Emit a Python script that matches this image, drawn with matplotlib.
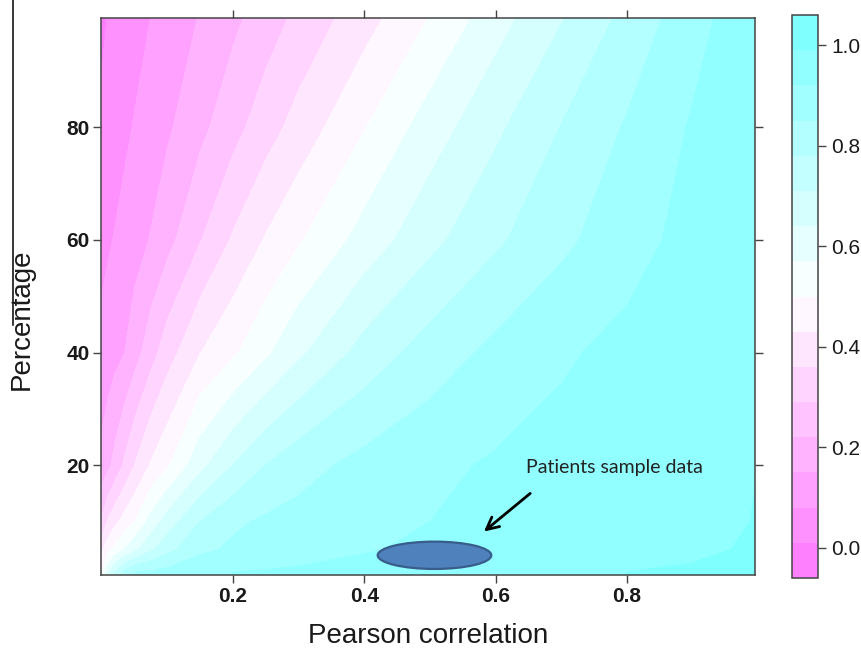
import numpy as np
import matplotlib
matplotlib.use("Agg")
import matplotlib.pyplot as plt
import matplotlib as mpl
from matplotlib.colors import ListedColormap, BoundaryNorm
from matplotlib.patches import Ellipse
from matplotlib.lines import Line2D

# Values: rows = percentage, columns = Pearson correlation
CORRELATION = [0.0, 0.01, 0.02, 0.035, 0.05, 0.075, 0.1, 0.15, 0.2, 0.25,
               0.3, 0.4, 0.5, 0.6, 0.7, 0.8, 0.9, 1.0]
PERCENTAGE = [1, 5, 10, 20, 40, 60, 80, 99]

Z_P1 = [0.50, 0.62, 0.71, 0.797, 0.85, 0.862, 0.873, 0.897, 0.92, 0.926,
        0.932, 0.943, 0.955, 0.967, 0.978, 0.99, 0.995, 1.0]
Z_P5 = [0.42, 0.473, 0.518, 0.57, 0.622, 0.696, 0.757, 0.836, 0.861, 0.874,
        0.888, 0.915, 0.931, 0.944, 0.957, 0.970, 0.983, 0.995]
Z_P10 = [0.30, 0.368, 0.409, 0.456, 0.495, 0.595, 0.671, 0.78, 0.838, 0.86,
         0.872, 0.896, 0.92, 0.935, 0.949, 0.963, 0.976, 0.992]
Z_P20 = [0.17, 0.203, 0.241, 0.302, 0.36, 0.436, 0.489, 0.617, 0.71, 0.78,
         0.824, 0.872, 0.904, 0.928, 0.943, 0.959, 0.974, 0.99]
Z_P40 = [0.10, 0.114, 0.128, 0.149, 0.189, 0.261, 0.328, 0.428, 0.488, 0.556,
         0.626, 0.736, 0.812, 0.868, 0.911, 0.939, 0.962, 0.985]
Z_P60 = [0.06, 0.072, 0.084, 0.103, 0.121, 0.154, 0.197, 0.286, 0.368, 0.436,
         0.492, 0.597, 0.69, 0.768, 0.834, 0.893, 0.943, 0.985]
Z_P80 = [0.02, 0.033, 0.046, 0.066, 0.084, 0.112, 0.139, 0.201, 0.265, 0.329,
         0.387, 0.496, 0.603, 0.696, 0.782, 0.857, 0.927, 0.98]
Z_P99 = [0.0, 0.012, 0.023, 0.039, 0.055, 0.081, 0.106, 0.155, 0.205, 0.257,
         0.308, 0.404, 0.505, 0.612, 0.707, 0.802, 0.895, 0.975]

COLORBAR_TICKS = [0.0, 0.2, 0.4, 0.6, 0.8, 1.0]
X_TICKS = [0.2, 0.4, 0.6, 0.8]
Y_TICKS = [20, 40, 60, 80]

# patients sample region (correlation, percentage) and its label
SAMPLE_CENTER = (0.507, 4.0)
SAMPLE_SIZE = (0.173, 4.85)
SAMPLE_LABEL = "Patients sample data"

plt.rcParams["font.family"] = ["Liberation Sans", "DejaVu Sans"]

# lattice-style levels: 16 bins, magenta -> white -> cyan
levels = np.linspace(-0.06, 1.06, 17)
cols = []
for i in range(16):
    pos = i / 15
    if pos < 0.5:
        s = 0.5 * (1 - pos / 0.5)
        cols.append((1.0, 1 - s, 1.0))
    else:
        s = 0.5 * (pos - 0.5) / 0.5
        cols.append((1 - s, 1.0, 1.0))
cmap = ListedColormap(cols)
norm = BoundaryNorm(levels, cmap.N)

Z = np.array([Z_P1, Z_P5, Z_P10, Z_P20, Z_P40, Z_P60, Z_P80, Z_P99])
Y = np.array(PERCENTAGE, dtype=float)
# stretch first/last rows to the cell edges
Yp = np.concatenate([[0.5], Y, [99.5]])
Zp = np.vstack([Z[0], Z, Z[-1]])

W, H = 862, 650
fig = plt.figure(figsize=(W / 100, H / 100), dpi=100)
ax = fig.add_axes([101.5 / W, 1 - 575 / H, (755 - 101.5) / W, (575 - 17.5) / H])

ax.contourf(CORRELATION, Yp, Zp, levels=levels, cmap=cmap, norm=norm)
ax.set_xlim(0, 0.995)
ax.set_ylim(0.5, 99.5)

frame = "#444444"
for sp in ax.spines.values():
    sp.set_color(frame)
    sp.set_linewidth(1.1)
ax.set_xticks(X_TICKS)
ax.set_yticks(Y_TICKS)
ax.set_xticklabels([f"{v:.1f}" for v in X_TICKS], fontweight="bold")
ax.set_yticklabels([str(v) for v in Y_TICKS], fontweight="bold")
ax.tick_params(direction="out", length=5.5, width=1, color=frame,
               top=True, right=True, labeltop=False, labelright=False,
               labelsize=15, pad=3, labelcolor="#1a1a1a")

# sample ellipse + arrow
ax.add_patch(Ellipse(SAMPLE_CENTER, SAMPLE_SIZE[0], SAMPLE_SIZE[1],
                     facecolor="#4F81BD", edgecolor="#385D8A", lw=1.6, zorder=5))
ax.annotate("", xy=(0.579, 7.9), xytext=(0.656, 15.3),
            arrowprops=dict(arrowstyle="->", color="black", lw=2,
                            mutation_scale=22))
ax.text(0.647, 19.6, SAMPLE_LABEL, fontsize=14, color="#222222",
        family=["Lato", "DejaVu Sans"], va="center", ha="left")

# colour key
cax = fig.add_axes([792 / W, 1 - 578 / H, 26 / W, (578 - 15) / H])
cb = mpl.colorbar.Colorbar(cax, cmap=cmap, norm=norm, boundaries=levels,
                           ticks=COLORBAR_TICKS)
cb.ax.minorticks_off()
cb.ax.set_yticklabels([f"{v:.1f}" for v in COLORBAR_TICKS])
cb.outline.set_edgecolor(frame)
cb.outline.set_linewidth(1.1)
cb.ax.tick_params(direction="out", length=5.5, width=1, color=frame,
                  labelsize=15, pad=4, labelcolor="#1a1a1a")

fig.text(428 / W, 1 - 636 / H, "Pearson correlation", fontsize=20,
         ha="center", va="center", color="#1a1a1a")
fig.text(22 / W, 1 - 319 / H, "Percentage", fontsize=20, rotation=90,
         ha="center", va="center", color="#1a1a1a")

# stray vertical rule on the left of the original
fig.add_artist(Line2D([13 / W, 13 / W], [1.0, 1 - 325 / H],
                      color="black", lw=1.1, transform=fig.transFigure))

fig.savefig("out.png", dpi=100)
